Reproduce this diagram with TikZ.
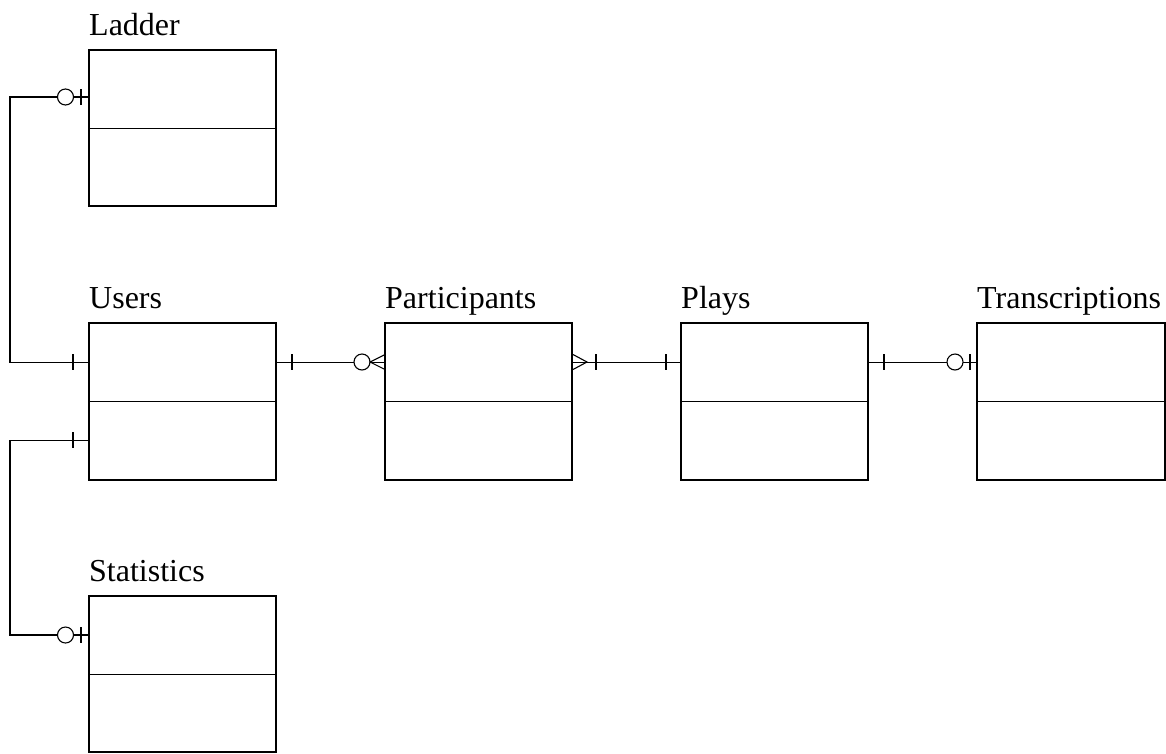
\documentclass[tikz,border=0pt]{standalone}
\usepackage{fontspec}
\setmainfont{Liberation Serif}
\begin{document}
\begin{tikzpicture}[x=1pt,y=-1pt,
  entity/.style={draw, line width=1.6pt, minimum width=187pt, minimum height=157pt, inner sep=0pt, outer sep=0pt, anchor=north west},
  divider/.style={line width=0.9pt},
  conn/.style={line width=1.1pt},
  ring/.style={line width=1.1pt, fill=white},
  lbl/.style={anchor=base west, inner sep=0pt, font=\fontsize{32}{38}\selectfont}]
\useasboundingbox (0,0) rectangle (1166,753);

% entities
\node[entity, minimum height=156pt] (ladder) at (89,50) {};
\node[entity] (users) at (89,323) {};
\node[entity] (part) at (385,323) {};
\node[entity] (plays) at (681,323) {};
\node[entity, minimum width=188pt] (trans) at (977,323) {};
\node[entity, minimum height=156pt] (stats) at (89,596) {};

\foreach \e in {ladder,users,part,plays,trans,stats}
  \draw[divider] (\e.west) -- (\e.east);

% labels
\node[lbl] (ladderlbl) at ([yshift=15pt]ladder.north west) {Ladder};
\node[lbl] (userslbl) at ([yshift=15pt]users.north west) {Users};
\node[lbl] (partlbl) at ([yshift=15pt]part.north west) {Participants};
\node[lbl] (playslbl) at ([yshift=15pt]plays.north west) {Plays};
\node[lbl] (translbl) at ([yshift=15pt]trans.north west) {Transcriptions};
\node[lbl] (statslbl) at ([yshift=15pt]stats.north west) {Statistics};

% connector end points
\coordinate (ladA) at ([yshift=31pt]ladder.west);
\coordinate (usrA) at ([yshift=39pt]users.west);
\coordinate (usrB) at ([yshift=-39pt]users.west);
\coordinate (staA) at ([yshift=39pt]stats.west);
\coordinate (usrE) at ([yshift=39pt]users.east);
\coordinate (parW) at ([yshift=39pt]part.west);
\coordinate (parE) at ([yshift=39pt]part.east);
\coordinate (plyW) at ([yshift=39pt]plays.west);
\coordinate (plyE) at ([yshift=39pt]plays.east);
\coordinate (trnW) at ([yshift=39pt]trans.west);
\coordinate (rail) at (10,0);

% connectors
\draw[conn] (ladA) -- (ladA -| rail) |- (usrA);
\draw[conn] (usrB) -- (usrB -| rail) |- (staA);
\draw[conn] (usrE) -- (parW);
\draw[conn] (parE) -- (plyW);
\draw[conn] (plyE) -- (trnW);

% Ladder end: zero or one
\draw[ring] (65.5,97) circle[radius=8];
\draw[conn] (81,89) -- (81,105);
% Users end (ladder link): one
\draw[conn] (73,354) -- (73,370);
% Users end (statistics link): one
\draw[conn] (73,432) -- (73,448);
% Statistics end: zero or one
\draw[ring] (65.5,635) circle[radius=8];
\draw[conn] (81,627) -- (81,643);

% Users -- Participants
\draw[conn] (292,354) -- (292,370);
\draw[ring] (362,362) circle[radius=8];
\draw[conn] (385,354.5) -- (370,362) -- (385,369.5);

% Participants -- Plays
\draw[conn] (573,354.5) -- (587,362) -- (573,369.5);
\draw[conn] (596,354) -- (596,370);
\draw[conn] (666,354) -- (666,370);

% Plays -- Transcriptions
\draw[conn] (884,354) -- (884,370);
\draw[ring] (955,362) circle[radius=8];
\draw[conn] (970,354) -- (970,370);
\end{tikzpicture}
\end{document}
